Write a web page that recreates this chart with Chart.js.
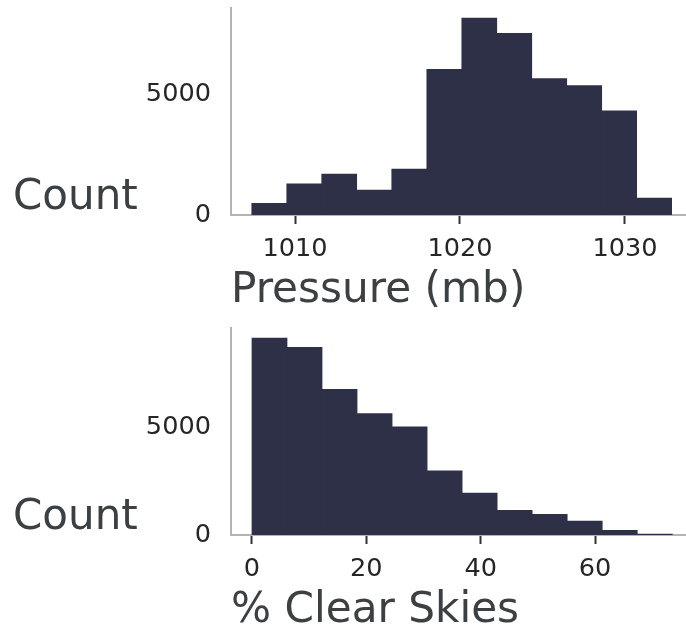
<!DOCTYPE html>
<html>
<head>
<meta charset="utf-8">
<script src="https://cdn.jsdelivr.net/npm/chart.js@4/dist/chart.umd.min.js"></script>
<style>
  html, body { margin: 0; padding: 0; background: #ffffff; overflow: hidden; width: 686px; height: 632px; }
  .panel { position: absolute; left: 0; width: 686px; height: 320px; }
  #p1 { top: 0; }
  #p2 { top: 320px; }
</style>
</head>
<body>
<div class="panel" id="p1"><canvas id="c1" width="686" height="320"></canvas></div>
<div class="panel" id="p2"><canvas id="c2" width="686" height="320"></canvas></div>
<script>
// ---- data ----
const pressureBinEdges = [1007.38, 1009.50, 1011.62, 1013.74, 1015.86, 1017.99, 1020.11, 1022.23, 1024.35, 1026.47, 1028.59, 1030.71, 1032.83];
const pressureCounts   = [500, 1300, 1700, 1040, 1910, 6030, 8150, 7520, 5650, 5360, 4320, 710];
const pressureTicks    = [1010, 1020, 1030];

const clearBinEdges = [0, 6.125, 12.25, 18.375, 24.5, 30.625, 36.75, 42.875, 49.0, 55.125, 61.25, 67.375, 73.5];
const clearCounts   = [9190, 8760, 6800, 5670, 5060, 3000, 1970, 1170, 980, 660, 235, 60];
const clearTicks    = [0, 20, 40, 60];

const countTicks = [0, 5000];

const yLabel = 'Count';
const pressureLabel = 'Pressure (mb)';
const clearLabel = '% Clear Skies';

// ---- styles ----
const BAR = '#2e3048';
const AXIS = '#b3b3b3';
const TICKC = '#262626';
const LABELC = '#3c4043';
const FONT = 'DejaVu Sans';
const TICK_SIZE = 25.6;
const LABEL_SIZE = 42.2;

const sideLabelPlugin = {
  id: 'sideLabel',
  afterDraw(chart, args, opts) {
    const ctx = chart.ctx;
    ctx.save();
    ctx.font = opts.size + 'px "' + FONT + '"';
    ctx.fillStyle = opts.color;
    ctx.textAlign = 'left';
    ctx.textBaseline = 'alphabetic';
    ctx.fillText(opts.text, opts.x, opts.y);
    ctx.restore();
  }
};

function histPoints(edges, counts) {
  return counts.map((c, i) => ({ x: (edges[i] + edges[i + 1]) / 2, y: c }));
}

function makeChart(canvasId, edges, counts, xTicks, xMin, xMax, yMax, xTitle) {
  return new Chart(document.getElementById(canvasId), {
    type: 'bar',
    data: {
      datasets: [{
        data: histPoints(edges, counts),
        backgroundColor: BAR,
        borderWidth: 0,
        barPercentage: 1.02,
        categoryPercentage: 1.0
      }]
    },
    options: {
      responsive: false,
      animation: false,
      events: [],
      layout: { padding: { left: 0, right: 0, top: 8, bottom: 0 } },
      plugins: {
        legend: { display: false },
        tooltip: { enabled: false },
        sideLabel: { text: yLabel, x: 13, y: 209, size: 42, color: LABELC }
      },
      scales: {
        x: {
          type: 'linear',
          offset: false,
          min: xMin,
          max: xMax,
          afterFit(scale) { scale.height = 105; scale.paddingLeft = 0; scale.paddingRight = 0; },
          afterBuildTicks(scale) { scale.ticks = xTicks.map(v => ({ value: v })); },
          ticks: {
            includeBounds: false,
            padding: 10,
            color: TICKC,
            font: { family: FONT, size: TICK_SIZE },
            maxRotation: 0,
            autoSkip: false,
            callback: v => String(v)
          },
          grid: {
            display: true,
            offset: false,
            drawOnChartArea: false,
            drawTicks: true,
            tickLength: 9,
            tickWidth: 2,
            tickColor: '#333333'
          },
          border: { display: true, color: AXIS, width: 2 },
          title: {
            display: true,
            text: xTitle,
            align: 'start',
            color: LABELC,
            font: { family: FONT, size: LABEL_SIZE },
            padding: { top: 0, bottom: 4 }
          }
        },
        y: {
          type: 'linear',
          min: 0,
          max: yMax,
          afterFit(scale) { scale.width = 231; scale.paddingTop = 0; scale.paddingBottom = 0; },
          afterBuildTicks(scale) { scale.ticks = countTicks.map(v => ({ value: v })); },
          ticks: {
            padding: 20,
            color: TICKC,
            font: { family: FONT, size: TICK_SIZE },
            callback: v => String(v)
          },
          grid: { display: false, drawTicks: false },
          border: { display: true, color: AXIS, width: 2 }
        }
      }
    },
    plugins: [sideLabelPlugin]
  });
}

makeChart('c1', pressureBinEdges, pressureCounts, pressureTicks, 1006.12, 1033.7, 8555, pressureLabel);
makeChart('c2', clearBinEdges, clearCounts, clearTicks, -3.67, 75.9, 9645, clearLabel);
</script>
</body>
</html>
